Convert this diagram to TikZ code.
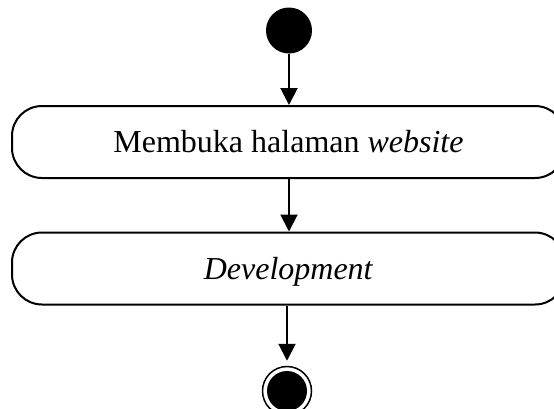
\documentclass[tikz,border=0pt]{standalone}
\usepackage{fontspec}
\setmainfont{Liberation Serif}
\usetikzlibrary{arrows.meta}
\begin{document}
\begin{tikzpicture}[x=1pt,y=-1pt,
  actbox/.style={draw, line width=2pt, rounded corners=30pt, minimum width=553pt, minimum height=72pt, inner sep=0pt, font=\fontsize{32}{38}\selectfont, text height=21pt, text depth=0pt},
  flow/.style={line width=2pt, -{Triangle[width=17pt,length=17pt]}}]
\useasboundingbox (0,0) rectangle (554,408);
\node[circle, fill=black, minimum size=46pt, inner sep=0pt] (start) at (289,30.5) {};
\node[actbox] (a1) at (288.5,142) {Membuka halaman \textit{website}};
\node[actbox] (a2) at (288.5,268.5) {\textit{Development}};
\node[circle, draw, line width=1.5pt, minimum size=49pt, inner sep=0pt] (stop) at (287,391) {};
\fill (stop.center) circle (20pt);
\draw[flow] (start.south) -- (start.south |- a1.north);
\draw[flow] (a1.south -| start.south) -- (a2.north -| start.south);
\draw[flow, shorten >=5pt] (a2.south -| stop.north) -- (stop.north);
\end{tikzpicture}
\end{document}
